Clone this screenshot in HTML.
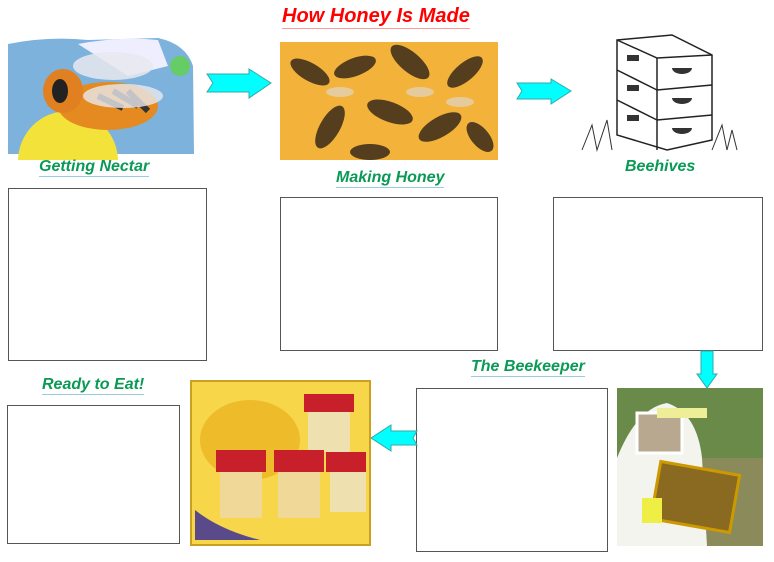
<!DOCTYPE html>
<html><head><style>
body{margin:0;width:774px;height:562px;background:#fff;position:relative;overflow:hidden;font-family:"Liberation Sans",sans-serif}
.a{position:absolute}
.box{position:absolute;border:1px solid #555;background:#fff;box-sizing:border-box}
.lbl{position:absolute;color:#0a9a55;font-weight:bold;font-style:italic;font-size:16px;white-space:nowrap;border-bottom:1px solid #9cd;line-height:18px}
</style></head><body>
<div class="a" style="left:282px;top:4px;color:#f00;font-weight:bold;font-style:italic;font-size:20px;border-bottom:1px solid #f99;line-height:24px">How Honey Is Made</div>

<!-- bee -->
<svg class="a" style="left:8px;top:36px" width="188" height="124">
<path d="M0 8 Q40 0 80 4 L150 2 Q178 8 185 30 L186 118 L0 118 Z" fill="#7db2dc"/>
<path d="M70 8 Q110 0 150 4 L160 30 L120 40 Z" fill="#eef"/>
<circle cx="60" cy="125" r="50" fill="#f3e23a"/>
<ellipse cx="100" cy="70" rx="50" ry="24" fill="#e48a20"/>
<ellipse cx="55" cy="55" rx="20" ry="22" fill="#e08020"/>
<ellipse cx="52" cy="55" rx="8" ry="12" fill="#222"/>
<path d="M90 60 L115 72 M105 55 L130 70 M120 55 L140 75" stroke="#333" stroke-width="6"/>
<ellipse cx="105" cy="30" rx="40" ry="14" fill="#e8e8ee" opacity=".85"/>
<ellipse cx="115" cy="60" rx="40" ry="12" fill="#e8e8ee" opacity=".8"/>
<circle cx="172" cy="30" r="10" fill="#6c6"/>
</svg>
<div class="lbl" style="left:39px;top:158px">Getting Nectar</div>
<div class="box" style="left:8px;top:188px;width:199px;height:173px"></div>

<svg class="a" style="left:205px;top:68px" width="68" height="32"><path d="M2 6 H44 V1 L66 15 L44 30 V24 H2 L8 15 Z" fill="#0ff" stroke="#3aa" /></svg>

<!-- bees on honey -->
<svg class="a" style="left:280px;top:42px" width="218" height="118">
<rect width="218" height="118" fill="#f3b23a"/>
<g fill="#3a2a1a" opacity=".85">
<ellipse cx="30" cy="30" rx="22" ry="9" transform="rotate(30 30 30)"/>
<ellipse cx="75" cy="25" rx="22" ry="9" transform="rotate(-20 75 25)"/>
<ellipse cx="130" cy="20" rx="24" ry="10" transform="rotate(40 130 20)"/>
<ellipse cx="185" cy="30" rx="22" ry="9" transform="rotate(-40 185 30)"/>
<ellipse cx="50" cy="85" rx="24" ry="10" transform="rotate(-60 50 85)"/>
<ellipse cx="110" cy="70" rx="24" ry="10" transform="rotate(20 110 70)"/>
<ellipse cx="160" cy="85" rx="24" ry="10" transform="rotate(-30 160 85)"/>
<ellipse cx="200" cy="95" rx="18" ry="9" transform="rotate(50 200 95)"/>
<ellipse cx="90" cy="110" rx="20" ry="8"/>
</g>
<g fill="#ddd" opacity=".6">
<ellipse cx="60" cy="50" rx="14" ry="5"/><ellipse cx="140" cy="50" rx="14" ry="5"/><ellipse cx="180" cy="60" rx="14" ry="5"/>
</g>
</svg>
<div class="lbl" style="left:336px;top:169px">Making Honey</div>
<div class="box" style="left:280px;top:197px;width:218px;height:154px"></div>

<svg class="a" style="left:515px;top:78px" width="58" height="28"><path d="M2 5 H36 V1 L56 13 L36 26 V21 H2 L7 13 Z" fill="#0ff" stroke="#3aa"/></svg>

<!-- hive -->
<svg class="a" style="left:572px;top:20px" width="170" height="140">
<g fill="#fff" stroke="#222" stroke-width="1.5">
<path d="M45 20 L100 15 L140 35 L140 120 L95 130 L45 115 Z"/>
<path d="M45 20 L85 38 L140 35"/>
<path d="M85 38 L85 130"/>
<path d="M85 70 L140 65 M85 100 L140 95 M45 50 L85 70 M45 80 L85 100"/>
</g>
<g fill="#333"><rect x="55" y="35" width="12" height="6"/><rect x="55" y="65" width="12" height="6"/><rect x="55" y="95" width="12" height="6"/>
<path d="M100 48 a10 6 0 0 0 20 0z"/><path d="M100 78 a10 6 0 0 0 20 0z"/><path d="M100 108 a10 6 0 0 0 20 0z"/></g>
<path d="M10 130 L20 105 L25 130 L35 100 L40 130 M140 130 L150 105 L155 130 L160 110 L165 130" stroke="#333" fill="none"/>
</svg>
<div class="lbl" style="left:625px;top:158px;border:none">Beehives</div>
<div class="box" style="left:553px;top:197px;width:210px;height:154px"></div>

<svg class="a" style="left:696px;top:350px" width="22" height="40"><path d="M5 1 H17 V24 H21 L11 38 L1 24 H5 Z" fill="#0ff" stroke="#3aa"/></svg>

<!-- beekeeper -->
<svg class="a" style="left:617px;top:388px" width="146" height="158">
<rect width="146" height="158" fill="#8a8a5a"/>
<rect width="146" height="70" fill="#6a8a4a"/>
<path d="M0 70 Q20 20 50 15 Q80 25 85 70 L90 158 L0 158 Z" fill="#f4f4ee"/>
<rect x="20" y="25" width="45" height="40" fill="#b8a890" stroke="#fff" stroke-width="3"/>
<rect x="40" y="20" width="50" height="10" fill="#ee9"/>
<rect x="38" y="80" width="80" height="58" fill="#8a6a20" stroke="#c90" stroke-width="3" transform="rotate(10 78 110)"/>
<rect x="25" y="110" width="20" height="25" fill="#ee4"/>
</svg>
<div class="lbl" style="left:471px;top:358px">The Beekeeper</div>
<div class="box" style="left:416px;top:388px;width:192px;height:164px"></div>

<svg class="a" style="left:369px;top:423px" width="50" height="30"><path d="M48 8 H22 V2 L2 15 L22 28 V22 H48 L44 15 Z" fill="#0ff" stroke="#3aa"/></svg>

<!-- jars -->
<svg class="a" style="left:190px;top:380px" width="181" height="166">
<rect x="1" y="1" width="179" height="164" fill="#f7d64a" stroke="#c9a020" stroke-width="2"/>
<ellipse cx="60" cy="60" rx="50" ry="40" fill="#e8a818" opacity=".6"/>
<rect x="118" y="22" width="42" height="50" fill="#efe0b0"/><rect x="114" y="14" width="50" height="18" fill="#c8202a"/>
<rect x="30" y="80" width="42" height="58" fill="#efd898"/><rect x="26" y="70" width="50" height="22" fill="#c8202a"/>
<rect x="88" y="80" width="42" height="58" fill="#efd898"/><rect x="84" y="70" width="50" height="22" fill="#c8202a"/>
<rect x="140" y="80" width="36" height="52" fill="#efe0b0"/><rect x="136" y="72" width="40" height="20" fill="#c8202a"/>
<path d="M5 130 Q30 150 70 160 L5 160 Z" fill="#5a4a8a"/>
</svg>
<div class="lbl" style="left:42px;top:376px">Ready to Eat!</div>
<div class="box" style="left:7px;top:405px;width:173px;height:139px"></div>
</body></html>
